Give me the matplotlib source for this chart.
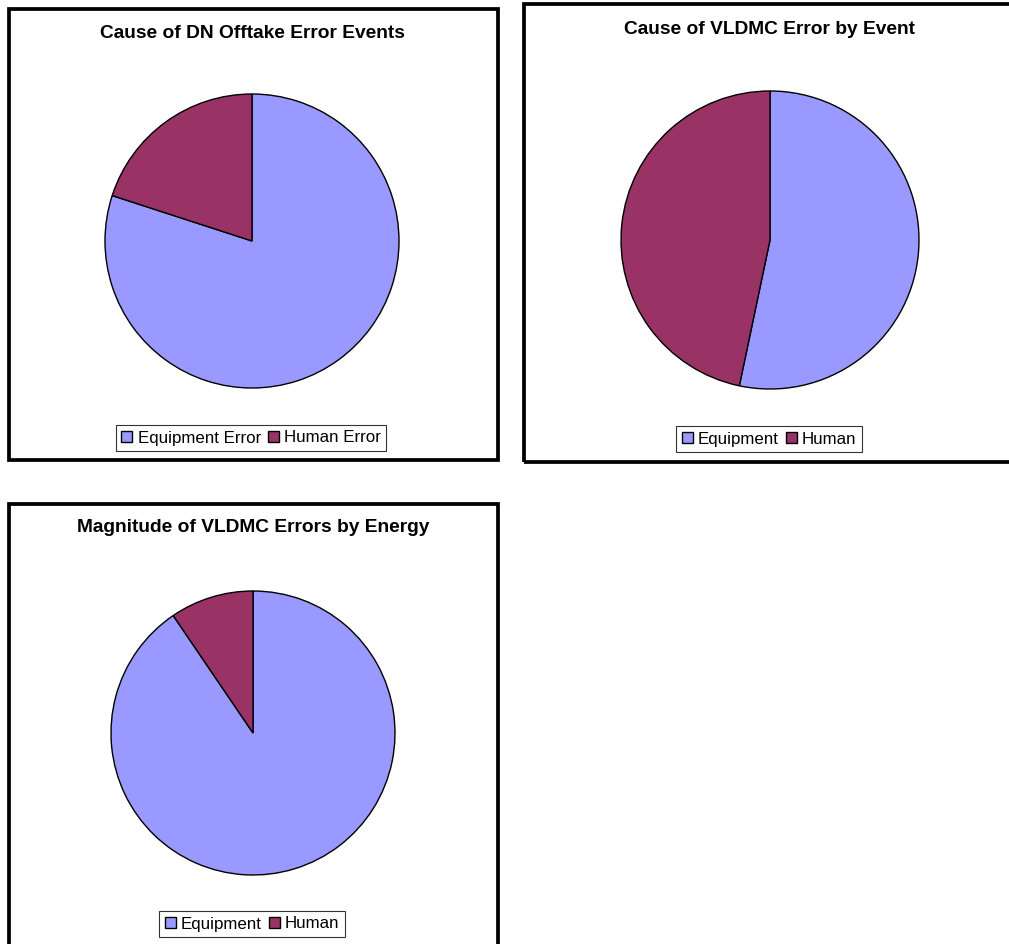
import matplotlib
matplotlib.use('Agg')
import matplotlib.pyplot as plt
from matplotlib.patches import Rectangle

plt.rcParams['font.family'] = ['Liberation Sans', 'DejaVu Sans']

W, H = 1009, 944

# 数据
titles = ['Cause of DN Offtake Error Events',
          'Cause of VLDMC Error by Event',
          'Magnitude of VLDMC Errors by Energy']
labels_1 = ['Equipment Error', 'Human Error']
labels_2 = ['Equipment', 'Human']
labels_3 = ['Equipment', 'Human']
values_1 = [80, 20]
values_2 = [53.3, 46.7]
values_3 = [90.5, 9.5]
colors = ['#9999FF', '#993366']

# 版面 (像素, 自上而下)
PANELS = [
    dict(box=(9, 9, 498, 460), pie=(252, 241, 147), title_y=34, leg=(251, 438)),
    dict(box=(523.5, 4, 1015, 462), pie=(770, 240, 149), title_y=30, leg=(769, 439)),
    dict(box=(9, 504, 498, 952), pie=(253, 733, 142), title_y=528, leg=(252, 924)),
]
DATA = [(values_1, labels_1), (values_2, labels_2), (values_3, labels_3)]

fig = plt.figure(figsize=(W / 100, H / 100), dpi=100)
fig.patch.set_facecolor('white')

def fx(x): return x / W
def fy(y): return 1 - y / H

for p, (vals, labs), title in zip(PANELS, DATA, titles):
    x0, y0, x1, y1 = p['box']
    fig.patches.append(Rectangle((fx(x0), fy(y1)), fx(x1) - fx(x0), fy(y0) - fy(y1),
                                 transform=fig.transFigure, fill=False,
                                 edgecolor='black', lw=2.7, zorder=0))
    cx, cy, r = p['pie']
    ax = fig.add_axes([fx(cx - r), fy(cy + r), 2 * r / W, 2 * r / H])
    wedges, _ = ax.pie(vals, colors=colors, startangle=90, counterclock=False,
                       wedgeprops=dict(edgecolor='black', linewidth=1.0))
    ax.set_xlim(-1, 1); ax.set_ylim(-1, 1)
    ax.set_aspect('auto')
    ax.axis('off')
    fig.text(fx(cx), fy(p['title_y']), title, ha='center', va='center',
             fontsize=13.8, fontweight='bold')
    lx, ly = p['leg']
    leg = fig.legend(wedges, labs, loc='center', bbox_to_anchor=(fx(lx), fy(ly)),
                     ncol=2, fontsize=12.2, frameon=True, fancybox=False,
                     edgecolor='black', handlelength=0.65, handleheight=0.65,
                     handletextpad=0.3, columnspacing=0.4, borderpad=0.35,
                     borderaxespad=0)
    leg.get_frame().set_linewidth(0.8)

fig.savefig('out.png', dpi=100, facecolor='white')
